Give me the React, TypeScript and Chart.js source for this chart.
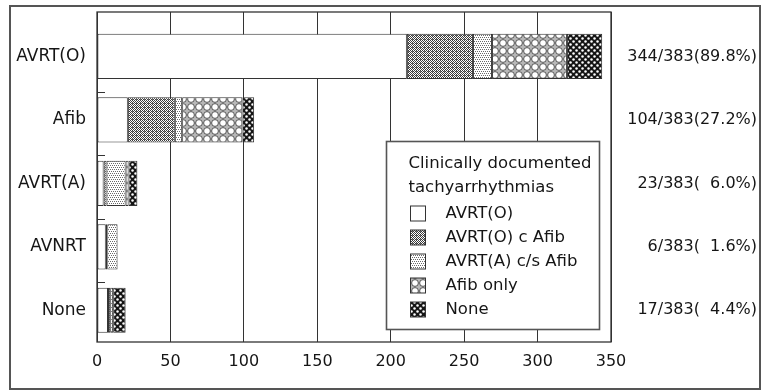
import React, { useEffect, useRef } from 'react';
import { Chart, registerables } from 'chart.js';

Chart.register(...registerables);

// ---- data ----
const categories = ['AVRT(O)', 'Afib', 'AVRT(A)', 'AVNRT', 'None'];
const rightLabels = ['344/383(89.8%)', '104/383(27.2%)', '23/383(\u20076.0%)', '6/383(\u20071.6%)', '17/383(\u20074.4%)'];
const seriesNames = ['AVRT(O)', 'AVRT(O) c Afib', 'AVRT(A) c/s Afib', 'Afib only', 'None'];
const avrtOValues = [211, 21, 4.5, 6, 7.5];
const avrtOcAfibValues = [45, 32, 2, 1, 1.5];
const avrtAcsAfibValues = [13, 5, 13, 7, 2];
const afibOnlyValues = [51, 41, 2, null, null];
const noneValues = [24, 8, 6, null, 8.5];
const legendTitle = ['Clinically documented', 'tachyarrhythmias'];
const xMax = 350;
const xStep = 50;

const FONT = { family: '"DejaVu Sans", sans-serif', size: 16 };
const FONT_Y = { family: '"DejaVu Sans", sans-serif', size: 17 };
const TEXT = '#151515';
const LINE = '#333333';

function makePattern(kind: string): any {
  if (kind === 'white') return '#ffffff';
  const c = document.createElement('canvas');
  const g = c.getContext('2d') as CanvasRenderingContext2D;
  if (kind === 'dense') {
    c.width = 4; c.height = 4;
    g.fillStyle = '#ffffff'; g.fillRect(0, 0, 4, 4);
    g.fillStyle = '#3a3a3a';
    g.fillRect(0, 0, 1, 1); g.fillRect(2, 0, 1, 1); g.fillRect(1, 1, 1, 1); g.fillRect(3, 1, 1, 1);
    g.fillRect(0, 2, 1, 1); g.fillRect(2, 2, 1, 1); g.fillRect(1, 3, 1, 1); g.fillRect(3, 3, 1, 1);
    g.fillStyle = '#777777'; g.fillRect(1, 0, 1, 1);
  } else if (kind === 'light') {
    c.width = 4; c.height = 4;
    g.fillStyle = '#ffffff'; g.fillRect(0, 0, 4, 4);
    g.fillStyle = '#6a6a6a';
    g.fillRect(0, 0, 1, 1); g.fillRect(2, 0, 1, 1); g.fillRect(1, 2, 1, 1); g.fillRect(3, 2, 1, 1);
  } else if (kind === 'circles') {
    c.width = 8; c.height = 8;
    g.fillStyle = '#b8b8b8'; g.fillRect(0, 0, 8, 8);
    g.fillStyle = '#ffffff';
    g.beginPath(); g.arc(4, 4, 3.4, 0, Math.PI * 2); g.fill();
    g.strokeStyle = '#444444'; g.lineWidth = 0.9;
    g.beginPath(); g.arc(4, 4, 3.4, 0, Math.PI * 2); g.stroke();
  } else if (kind === 'checker') {
    c.width = 6; c.height = 6;
    g.fillStyle = '#151515'; g.fillRect(0, 0, 6, 6);
    g.fillStyle = '#ffffff';
    g.beginPath(); g.arc(1.5, 1.5, 1.25, 0, Math.PI * 2); g.fill();
    g.beginPath(); g.arc(4.5, 4.5, 1.25, 0, Math.PI * 2); g.fill();
  }
  return g.createPattern(c, 'repeat');
}

const framePlugin = {
  id: 'frameAndTicks',
  afterDatasetsDraw(chart: any) {
    const { ctx, chartArea: a, scales } = chart;
    const y = scales.y;
    ctx.save();
    ctx.strokeStyle = LINE;
    ctx.lineWidth = 1.3;
    ctx.strokeRect(a.left, a.top, a.right - a.left, a.bottom - a.top);
    ctx.lineWidth = 1;
    for (let i = 0; i < categories.length - 1; i++) {
      const py = Math.round(y.getPixelForValue(i + 0.56)) + 0.5;
      ctx.beginPath();
      ctx.moveTo(a.left, py);
      ctx.lineTo(a.left + 8, py);
      ctx.stroke();
    }
    ctx.restore();
  },
};

const legendPlugin = {
  id: 'boxLegend',
  afterDatasetsDraw(chart: any) {
    const { ctx, chartArea: a } = chart;
    const w = 213;
    const h = 188;
    const x = Math.round(a.right - 12 - w) + 0.5;
    const y = Math.round(a.bottom - 13 - h) + 0.5;
    ctx.save();
    ctx.fillStyle = '#ffffff';
    ctx.fillRect(x, y, w, h);
    ctx.strokeStyle = '#555555';
    ctx.lineWidth = 1.6;
    ctx.strokeRect(x, y, w, h);
    ctx.font = `16.5px ${FONT.family}`;
    ctx.textBaseline = 'middle';
    ctx.textAlign = 'left';
    ctx.fillStyle = TEXT;
    ctx.fillText(legendTitle[0], x + 22, y + 22);
    ctx.fillText(legendTitle[1], x + 22, y + 46);
    chart.data.datasets.forEach((ds: any, i: number) => {
      const cy = Math.round(y + 71 + i * 24);
      ctx.fillStyle = ds.backgroundColor;
      ctx.fillRect(x + 24, cy - 7, 15, 15);
      ctx.strokeStyle = LINE;
      ctx.lineWidth = 1;
      ctx.strokeRect(x + 24, cy - 7, 15, 15);
      ctx.fillStyle = TEXT;
      ctx.fillText(ds.label, x + 59, cy + 1);
    });
    ctx.restore();
  },
};

const noPad = (s: any) => { s.paddingTop = 0; s.paddingBottom = 0; };

export default function App() {
  const ref = useRef<HTMLCanvasElement | null>(null);
  useEffect(() => {
    const canvas = ref.current;
    if (!canvas) return;
    const fills = [makePattern('white'), makePattern('dense'), makePattern('light'), makePattern('circles'), makePattern('checker')];
    const seriesValues = [avrtOValues, avrtOcAfibValues, avrtAcsAfibValues, afibOnlyValues, noneValues];
    const yMin = -0.7;
    const yMax = categories.length - 0.5;
    const catTicks = (s: any) => { s.ticks = categories.map((_, i) => ({ value: i })); };
    const chart = new Chart(canvas, {
      type: 'bar',
      data: {
        labels: categories,
        datasets: seriesNames.map((name, k) => ({
          label: name,
          data: seriesValues[k].map((v, i) => ({ x: v, y: i })),
          backgroundColor: fills[k],
          borderColor: LINE,
          borderWidth: 1,
          borderSkipped: false,
          barPercentage: 0.89,
          categoryPercentage: 0.8,
        })),
      } as any,
      options: {
        indexAxis: 'y',
        animation: false,
        responsive: false,
        layout: { padding: { top: 5, right: 2, bottom: 0, left: 0 } },
        plugins: { legend: { display: false }, tooltip: { enabled: false } },
        scales: {
          x: {
            type: 'linear',
            stacked: true,
            min: 0,
            max: xMax,
            ticks: { stepSize: xStep, padding: 10, font: FONT, color: TEXT },
            grid: { color: LINE, lineWidth: 1, drawTicks: false },
            border: { display: false },
            afterFit: (s: any) => { s.height = 46; s.paddingLeft = 0; s.paddingRight = 0; },
          },
          y: {
            type: 'linear',
            stacked: true,
            reverse: true,
            min: yMin,
            max: yMax,
            offset: false,
            grid: { display: false, offset: false, drawTicks: false },
            border: { display: false },
            afterBuildTicks: catTicks,
            ticks: { autoSkip: false, padding: 11, font: FONT_Y, color: TEXT, callback: (v: any) => categories[v] ?? '' },
            afterFit: (s: any) => { s.width = 86; noPad(s); },
          },
          y2: {
            type: 'linear',
            position: 'right',
            reverse: true,
            min: yMin,
            max: yMax,
            offset: false,
            grid: { display: false, offset: false, drawTicks: false },
            border: { display: false },
            afterBuildTicks: catTicks,
            ticks: { autoSkip: false, crossAlign: 'far', padding: 0, font: FONT, color: TEXT, callback: (v: any) => rightLabels[v] ?? '' },
            afterFit: (s: any) => { s.width = 146; noPad(s); },
          },
        },
      } as any,
      plugins: [framePlugin, legendPlugin],
    });
    return () => chart.destroy();
  }, []);

  return (
    <div
      style={{
        position: 'absolute',
        left: 9,
        top: 5,
        width: 752,
        height: 385,
        boxSizing: 'border-box',
        border: '2px solid #555',
        background: '#fff',
      }}
    >
      <canvas ref={ref} width={748} height={381} style={{ display: 'block' }} />
    </div>
  );
}
